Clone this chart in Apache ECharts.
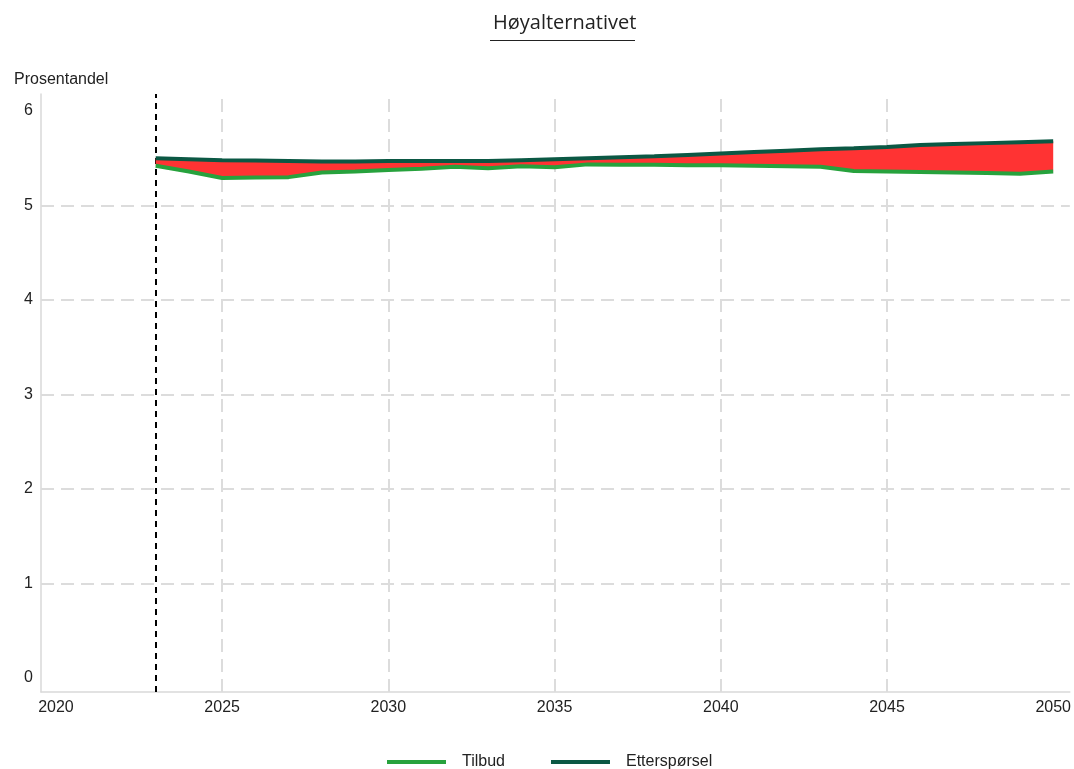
<!DOCTYPE html>
<html>
<head>
<meta charset="utf-8">
<script src="https://cdn.jsdelivr.net/npm/echarts@6/dist/echarts.min.js"></script>
<style>html,body{margin:0;padding:0;background:#fff;}#c{width:1074px;height:769px;}</style>
</head>
<body>
<div id="c"></div>
<script>
const years = [2023,2024,2025,2026,2027,2028,2029,2030,2031,2032,2033,2034,2035,2036,2037,2038,2039,2040,2041,2042,2043,2044,2045,2046,2047,2048,2049,2050];
const tilbud = [5.42,5.36,5.29,5.295,5.30,5.35,5.36,5.375,5.39,5.41,5.395,5.415,5.405,5.435,5.43,5.43,5.425,5.425,5.42,5.415,5.41,5.365,5.36,5.355,5.35,5.345,5.335,5.36];
const ettersporsel = [5.50,5.49,5.48,5.475,5.47,5.465,5.465,5.47,5.47,5.47,5.47,5.48,5.49,5.50,5.51,5.52,5.535,5.55,5.565,5.58,5.595,5.605,5.62,5.64,5.65,5.66,5.67,5.68];
const xTickLabels = [2020,2025,2030,2035,2040,2045,2050];
const yTickLabels = [0,1,2,3,4,5,6];
const xGridValues = [2025,2030,2035,2040,2045];
const yGridValues = [1,2,3,4,5];
const startYear = 2023;

const pair = (xs, ys) => xs.map((x, i) => [x, ys[i]]);

const font = "'Liberation Sans', Arial, sans-serif";
const gridLine = { color: '#dcdcdc', width: 2, type: [13, 7] };

const chart = echarts.init(document.getElementById('c'), null, { renderer: 'canvas' });
chart.setOption({
  animation: false,
  backgroundColor: '#fff',
  title: [
    { text: 'Høyalternativet', left: 488, top: 8,
      textStyle: { fontFamily: "'Open Sans', sans-serif", fontSize: 20, fontWeight: 'normal', color: '#222' } },
    { text: 'Prosentandel', left: 9, top: 67,
      textStyle: { fontFamily: font, fontSize: 16, fontWeight: 'normal', color: '#222' } }
  ],
  graphic: [
    { type: 'line', shape: { x1: 490, y1: 40.5, x2: 635, y2: 40.5 }, style: { stroke: '#222', lineWidth: 1 } }
  ],
  legend: {
    data: ['Tilbud', 'Etterspørsel'],
    left: 382, top: 749,
    icon: 'rect', itemWidth: 59, itemHeight: 4, itemGap: 46,
    textStyle: { fontFamily: font, fontSize: 16, color: '#222', padding: [0, 0, 0, 11] }
  },
  grid: { left: 41, right: 4, top: 94, bottom: 77, containLabel: false },
  xAxis: {
    type: 'value', min: 2019.55, max: 2050.5,
    axisLine: { show: true, onZero: false, lineStyle: { color: '#d9d9d9', width: 1.5 } },
    axisTick: { show: false },
    splitLine: { show: false },
    axisLabel: { customValues: xTickLabels, margin: 8, fontFamily: font, fontSize: 16, color: '#222',
      formatter: v => String(v) }
  },
  yAxis: {
    type: 'value', min: -0.15, max: 6.18,
    axisLine: { show: true, onZero: false, lineStyle: { color: '#d9d9d9', width: 1.5 } },
    axisTick: { show: false },
    splitLine: { show: false },
    axisLabel: { customValues: yTickLabels, margin: 8, fontFamily: font, fontSize: 16, color: '#222',
      formatter: v => String(v) }
  },
  series: [
    {
      name: 'gap', type: 'custom', silent: true, z: 2,
      data: [[years[0], tilbud[0]]],
      encode: { x: 0, y: 1 },
      renderItem: function (params, api) {
        const top = years.map((y, i) => api.coord([y, ettersporsel[i]]));
        const bottom = years.map((y, i) => api.coord([y, tilbud[i]])).reverse();
        return {
          type: 'polygon',
          shape: { points: top.concat(bottom) },
          style: { fill: '#ff3333', stroke: null }
        };
      },
      markLine: {
        silent: true, symbol: 'none', z: 1, label: { show: false },
        data: [
          ...xGridValues.map(v => ({ xAxis: v, lineStyle: gridLine })),
          ...yGridValues.map(v => ({ yAxis: v, lineStyle: gridLine })),
          { xAxis: startYear, lineStyle: { color: '#000', width: 2, type: [6, 5] } }
        ]
      }
    },
    {
      name: 'Tilbud', type: 'line', data: pair(years, tilbud), symbol: 'none', z: 3,
      color: '#27a23d', lineStyle: { color: '#27a23d', width: 4 }
    },
    {
      name: 'Etterspørsel', type: 'line', data: pair(years, ettersporsel), symbol: 'none', z: 4,
      color: '#0b5844', lineStyle: { color: '#0b5844', width: 4 }
    }
  ]
});
</script>
</body>
</html>
